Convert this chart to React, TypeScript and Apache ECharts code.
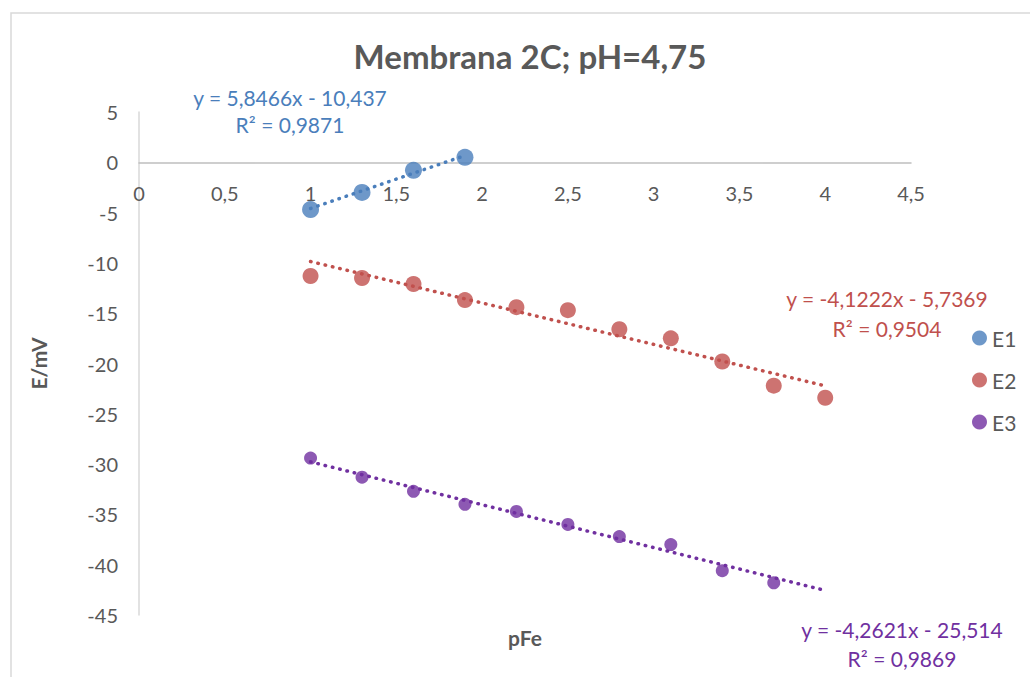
import React, { useEffect, useRef } from "react";
import * as echarts from "echarts";

const xE1 = [1, 1.3, 1.6, 1.9];
const yE1 = [-4.7, -3.0, -0.8, 0.5];
const xE2 = [1, 1.3, 1.6, 1.9, 2.2, 2.5, 2.8, 3.1, 3.4, 3.7, 4.0];
const yE2 = [-11.3, -11.5, -12.1, -13.7, -14.4, -14.7, -16.6, -17.5, -19.8, -22.2, -23.4];
const xE3 = [1, 1.3, 1.6, 1.9, 2.2, 2.5, 2.8, 3.1, 3.4, 3.7];
const yE3 = [-29.4, -31.3, -32.7, -34.0, -34.7, -36.0, -37.2, -38.0, -40.6, -41.8];

const seriesNames = ["E1", "E2", "E3"];
const colors = ["#4A7EBB", "#C0504D", "#7030A0"];
const slopes = [5.8466, -4.1222, -4.2621];
const intercepts = [-10.437, -5.7369, -25.514];
const r2 = ["0,9871", "0,9504", "0,9869"];
const trendFrom = [1, 1, 1];
const trendTo = [1.9, 4, 4];
const equations = ["y = 5,8466x - 10,437", "y = -4,1222x - 5,7369", "y = -4,2621x - 25,514"];

const Y_MIN = -45;
const Y_MAX = 5;

const FONT = "Lato, 'Open Sans', sans-serif";

export default function App() {
  const ref = useRef<HTMLDivElement>(null);
  useEffect(() => {
    if (!ref.current) return;
    const chart = echarts.init(ref.current, undefined, { renderer: "svg" });
    const xs = [xE1, xE2, xE3];
    const ys = [yE1, yE2, yE3];
    const sizes = [17, 16, 13];
    const scatter = seriesNames.map((n, i) => ({
      name: n,
      type: "scatter",
      symbol: "circle",
      symbolSize: sizes[i],
      itemStyle: { color: colors[i] },
      data: xs[i].map((x, j) => [x, ys[i][j]]),
      z: 3,
    }));
    const trends = seriesNames.map((n, i) => ({
      name: n + " trend",
      type: "line",
      showSymbol: false,
      symbol: "none",
      lineStyle: { color: colors[i], width: 3.5, type: [0.5, 7], cap: "round" },
      data: [
        [trendFrom[i], slopes[i] * trendFrom[i] + intercepts[i]],
        [trendTo[i], slopes[i] * trendTo[i] + intercepts[i]],
      ],
      z: 2,
      silent: true,
    }));
    const fmt = (v: number) => String(v).replace(".", ",");
    const gridTop = 112;
    const gridBottom = 62;
    const plotH = 677 - gridTop - gridBottom;
    const zeroOffset = -(plotH * (0 - Y_MIN)) / (Y_MAX - Y_MIN);
    const eqPos = [
      [290, 97, 124],
      [887, 298, 328],
      [902, 629, 658],
    ];
    const graphics: any[] = [
      {
        type: "rect",
        shape: { x: 11, y: 13, width: 1040, height: 700 },
        style: { fill: "none", stroke: "#D9D9D9", lineWidth: 1.5 },
        silent: true,
      },
    ];
    eqPos.forEach((p, i) => {
      graphics.push({
        type: "text",
        x: p[0],
        y: p[1],
        style: {
          text: equations[i],
          fill: colors[i],
          font: `21px ${FONT}`,
          align: "center",
          verticalAlign: "middle",
        },
      });
      graphics.push({
        type: "text",
        x: p[0],
        y: p[2],
        style: {
          text: "R² = " + r2[i],
          fill: colors[i],
          font: `21px ${FONT}`,
          align: "center",
          verticalAlign: "middle",
        },
      });
    });
    graphics.push({
      type: "text",
      x: 525,
      y: 637,
      style: {
        text: "pFe",
        fill: "#595959",
        font: `bold 21px ${FONT}`,
        align: "center",
        verticalAlign: "middle",
      },
    });
    chart.setOption({
      animation: false,
      textStyle: { fontFamily: FONT },
      title: {
        text: "Membrana 2C; pH=4,75",
        left: 525,
        top: 34,
        textAlign: "center",
        textStyle: { fontSize: 33, fontWeight: "bold", color: "#595959", fontFamily: FONT },
      },
      grid: { left: 139, right: 119, top: gridTop, bottom: gridBottom },
      legend: {
        data: seriesNames,
        orient: "vertical",
        left: 967,
        top: 322,
        itemWidth: 15,
        itemHeight: 15,
        itemGap: 20,
        icon: "circle",
        textStyle: { fontSize: 21, color: "#595959", fontFamily: FONT, lineHeight: 22 },
      },
      xAxis: {
        type: "value",
        min: 0,
        max: 4.5,
        interval: 0.5,
        offset: zeroOffset,
        axisLine: { onZero: false, lineStyle: { color: "#BFBFBF", width: 1.5 } },
        axisTick: { show: false },
        splitLine: { show: false },
        axisLabel: { fontSize: 20, color: "#595959", margin: 21, formatter: fmt },
      },
      yAxis: {
        type: "value",
        min: Y_MIN,
        max: Y_MAX,
        interval: 5,
        name: "E/mV",
        nameLocation: "middle",
        nameGap: 90,
        nameRotate: 90,
        nameTextStyle: { fontSize: 21, fontWeight: "bold", color: "#595959" },
        axisLine: { show: true, onZero: false, lineStyle: { color: "#D9D9D9", width: 1.5 } },
        axisTick: { show: false },
        splitLine: { show: false },
        axisLabel: { fontSize: 20, color: "#595959", margin: 21, formatter: fmt },
      },
      graphic: graphics,
      series: [...trends, ...scatter],
    });
    return () => chart.dispose();
  }, []);
  return (
    <div
      ref={ref}
      style={{ position: "fixed", left: 0, top: 0, width: 1030, height: 677, background: "#fff" }}
    />
  );
}
